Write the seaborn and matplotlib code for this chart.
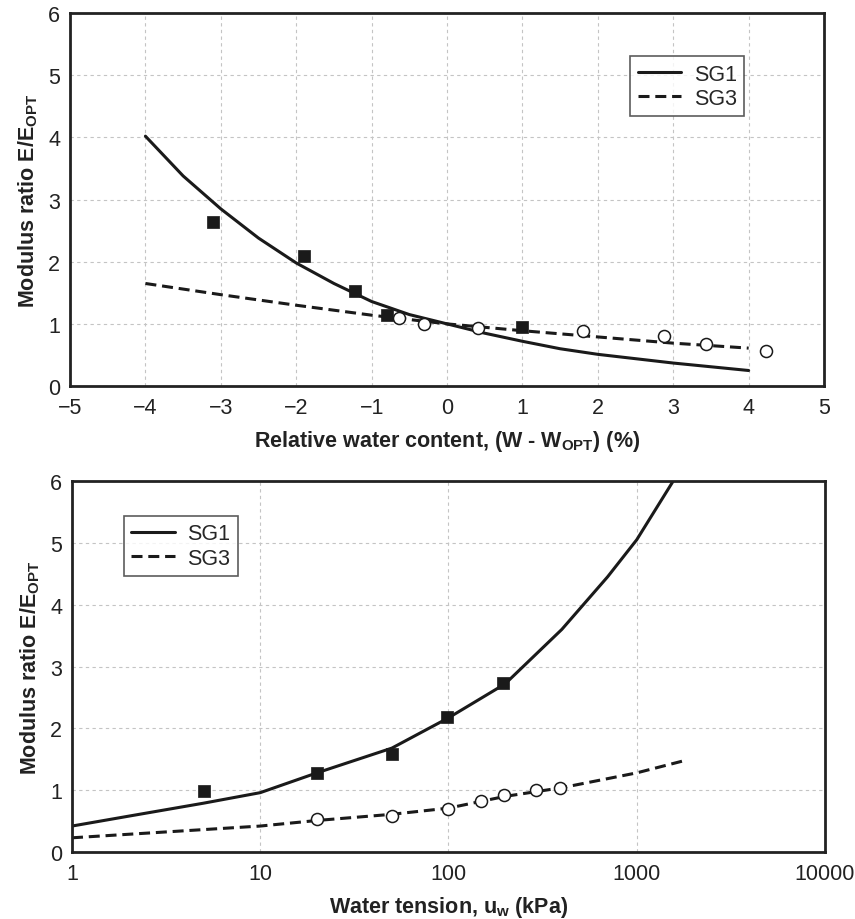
import numpy as np
import pandas as pd
import matplotlib
matplotlib.use("Agg")
import matplotlib.pyplot as plt
import seaborn as sns
from matplotlib.lines import Line2D

# ---- top panel: modulus ratio vs relative water content ----
w_sg1_pts = [-3.1, -1.9, -1.22, -0.8, 1.0]
e_sg1_pts = [2.64, 2.10, 1.53, 1.15, 0.95]
w_sg3_pts = [-0.64, -0.31, 0.41, 1.8, 2.88, 3.43, 4.23]
e_sg3_pts = [1.09, 1.0, 0.94, 0.89, 0.80, 0.68, 0.56]

w_sg1_fit = [-4, -3.5, -3, -2.5, -2, -1.5, -1, -0.5, 0, 0.5, 1, 1.5, 2, 2.5, 3, 3.5, 4]
e_sg1_fit = [4.02, 3.38, 2.85, 2.38, 1.98, 1.65, 1.36, 1.15, 1.0, 0.85, 0.72,
             0.60, 0.51, 0.44, 0.37, 0.31, 0.25]
w_sg3_fit = [-4, -3, -2, -1, 0, 1, 2, 3, 4]
e_sg3_fit = [1.65, 1.47, 1.30, 1.14, 1.0, 0.89, 0.79, 0.69, 0.61]

# ---- bottom panel: modulus ratio vs water tension ----
u_sg1_pts = [5, 20, 50, 98, 195]
r_sg1_pts = [0.99, 1.27, 1.58, 2.18, 2.73]
u_sg3_pts = [20, 50, 100, 148, 198, 292, 392]
r_sg3_pts = [0.53, 0.59, 0.69, 0.83, 0.92, 1.0, 1.04]

u_sg1_fit = [1, 2, 5, 10, 20, 50, 100, 200, 400, 700, 1000, 1600, 1800]
r_sg1_fit = [0.42, 0.58, 0.79, 0.96, 1.28, 1.68, 2.17, 2.72, 3.6, 4.45, 5.05, 6.05, 6.4]
u_sg3_fit = [1, 10, 20, 50, 100, 200, 400, 1000, 1800]
r_sg3_fit = [0.23, 0.42, 0.51, 0.61, 0.71, 0.90, 1.04, 1.28, 1.48]

sns.set_theme(style="white")
plt.rcParams['font.family'] = ['Liberation Sans', 'DejaVu Sans']
plt.rcParams['mathtext.fontset'] = 'custom'
plt.rcParams['mathtext.rm'] = 'Liberation Sans'
plt.rcParams['mathtext.bf'] = 'Liberation Sans:bold'
plt.rcParams['axes.unicode_minus'] = True

fig = plt.figure(figsize=(8.55, 9.2), dpi=100)
ax1 = fig.add_axes([0.0819, 0.5793, 0.8819, 0.4054])
ax2 = fig.add_axes([0.0842, 0.0728, 0.8807, 0.4033])

dash = (3.6, 1.9)
lw = 2.2
ink = '#1a1a1a'


def style_axes(ax):
    ax.grid(True, which='major', color='#c4c4c4', linestyle=(0, (3, 3)), linewidth=0.8)
    for s in ax.spines.values():
        s.set_color('#222222')
        s.set_linewidth(2)
    ax.tick_params(axis='both', which='both', length=0, labelsize=15.5,
                   colors='#222222')
    ax.tick_params(axis='x', pad=8)
    ax.tick_params(axis='y', pad=7)
    ax.set_ylim(0, 6)
    ax.set_yticks(range(0, 7))
    ax.set_ylabel(r'Modulus ratio E/E$_{\mathbf{OPT}}$', fontsize=15.5,
                  fontweight='bold', color='#222222', labelpad=6)


def draw(ax, xf1, yf1, xf3, yf3, xp1, yp1, xp3, yp3):
    sns.lineplot(x=xf1, y=yf1, ax=ax, color=ink, linewidth=lw,
                 sort=False, estimator=None)
    sns.lineplot(x=xf3, y=yf3, ax=ax, color=ink, linewidth=lw,
                 sort=False, estimator=None)
    ax.lines[-1].set_dashes(dash)
    sns.scatterplot(x=xp1, y=yp1, ax=ax, marker='s', s=85, color=ink,
                    edgecolor=ink, linewidth=0.5, zorder=5)
    sns.scatterplot(x=xp3, y=yp3, ax=ax, marker='o', s=75, facecolor='white',
                    edgecolor=ink, linewidth=1.1, zorder=5)


draw(ax1, w_sg1_fit, e_sg1_fit, w_sg3_fit, e_sg3_fit,
     w_sg1_pts, e_sg1_pts, w_sg3_pts, e_sg3_pts)
style_axes(ax1)
ax1.set_xlim(-5, 5)
ax1.set_xticks(range(-5, 6))
ax1.set_xlabel(r'Relative water content, (W - W$_{\mathbf{OPT}}$) (%)',
               fontsize=15.5, fontweight='bold', color='#222222', labelpad=7)

draw(ax2, u_sg1_fit, r_sg1_fit, u_sg3_fit, r_sg3_fit,
     u_sg1_pts, r_sg1_pts, u_sg3_pts, r_sg3_pts)
ax2.set_xscale('log')
style_axes(ax2)
ax2.set_xlim(1, 10000)
ax2.set_xticks([1, 10, 100, 1000, 10000])
ax2.set_xticklabels(['1', '10', '100', '1000', '10000'])
ax2.minorticks_off()
ax2.set_xlabel(r'Water tension, u$_{\mathbf{w}}$ (kPa)',
               fontsize=15.5, fontweight='bold', color='#222222', labelpad=7)

handles = [Line2D([], [], color=ink, linewidth=lw),
           Line2D([], [], color=ink, linewidth=lw, dashes=dash)]
for ax, loc in [(ax1, (0.743, 0.885)), (ax2, (0.069, 0.906))]:
    leg = ax.legend(handles, ['SG1', 'SG3'], loc='upper left', bbox_to_anchor=loc,
                    fontsize=15.5, frameon=True, fancybox=False, handlelength=2.0,
                    borderpad=0.35, labelspacing=0.15, handletextpad=0.6,
                    borderaxespad=0)
    leg.get_frame().set_edgecolor('#333333')
    leg.get_frame().set_linewidth(1.2)

fig.savefig('out.png', dpi=100)
